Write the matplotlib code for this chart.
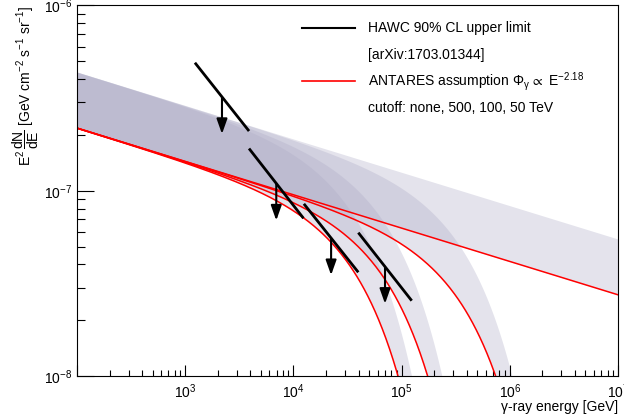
import numpy as np
import matplotlib
matplotlib.use("Agg")
import matplotlib.pyplot as plt
from matplotlib.ticker import LogLocator, NullFormatter

plt.rcParams['font.family'] = ['Liberation Sans', 'DejaVu Sans']
plt.rcParams['mathtext.fontset'] = 'custom'
plt.rcParams['mathtext.rm'] = 'Liberation Sans'
plt.rcParams['mathtext.it'] = 'Liberation Sans'
plt.rcParams['mathtext.default'] = 'regular'

# ANTARES power-law assumption, E^2 dN/dE at 1 TeV, index, cutoffs (GeV)
norm_1tev = 1.44e-7
index = 2.18
band_factor = 2.0
cutoffs = [np.inf, 5e5, 1e5, 5e4]

# HAWC 90% CL upper limits: energy bin edges (GeV) and flux at the edges
hawc_e_lo = [1.23e3, 3.89e3, 1.25e4, 3.98e4]
hawc_e_hi = [3.89e3, 1.24e4, 3.98e4, 1.24e5]
hawc_f_lo = [4.91e-7, 1.69e-7, 8.5e-8, 5.94e-8]
hawc_f_hi = [2.10e-7, 7.1e-8, 3.63e-8, 2.55e-8]

fig = plt.figure(figsize=(6.24, 4.19), dpi=100)
ax = fig.add_axes([0.1234, 0.1026, 0.8670, 0.8843])

energy = np.logspace(2, 7, 600)
band_col = (173/255., 171/255., 198/255.)
for ec in cutoffs:
    f = norm_1tev * (energy / 1e3) ** (2 - index) * np.exp(-energy / ec)
    ax.fill_between(energy, f, band_factor * f, color=band_col, alpha=0.33, lw=0)
for ec in cutoffs:
    f = norm_1tev * (energy / 1e3) ** (2 - index) * np.exp(-energy / ec)
    ax.plot(energy, f, color='red', lw=1.1)

# upper limits with down arrows
for elo, ehi, flo, fhi in zip(hawc_e_lo, hawc_e_hi, hawc_f_lo, hawc_f_hi):
    ax.plot([elo, ehi], [flo, fhi], color='black', lw=2.0, solid_capstyle='butt')
    ec = np.sqrt(elo * ehi)
    fm = np.sqrt(flo * fhi)
    ax.annotate('', xy=(ec, fm * 10 ** -0.2), xytext=(ec, fm),
                arrowprops=dict(arrowstyle='-|>,head_length=0.9,head_width=0.32',
                                color='black', lw=1.5, mutation_scale=10,
                                shrinkA=0, shrinkB=0))

ax.set_xscale('log')
ax.set_yscale('log')
ax.set_xlim(1e2, 1e7)
ax.set_ylim(1e-8, 1e-6)

ax.xaxis.set_major_locator(LogLocator(base=10, numticks=10))
ax.xaxis.set_minor_locator(LogLocator(base=10, subs=np.arange(2, 10), numticks=20))
ax.xaxis.set_minor_formatter(NullFormatter())
ax.yaxis.set_minor_locator(LogLocator(base=10, subs=np.arange(2, 10), numticks=20))
ax.yaxis.set_minor_formatter(NullFormatter())
ax.tick_params(axis='x', which='major', direction='in', length=8, width=0.8, labelsize=10, pad=4.5)
ax.tick_params(axis='x', which='minor', direction='in', length=4, width=0.8)
ax.tick_params(axis='y', which='major', direction='in', length=12, width=0.8, labelsize=10)
ax.tick_params(axis='y', which='minor', direction='in', length=6, width=0.8)
fig.canvas.draw()
for t, v in zip(ax.get_xticklabels(), ax.get_xticks()):
    if v < 5e2:
        t.set_visible(False)

ax.set_xlabel('γ-ray energy [GeV]', loc='right', fontsize=10, labelpad=-0.5)
ax.set_ylabel(r'$E^{2}\,\dfrac{dN}{dE}$ [GeV cm$^{-2}$ s$^{-1}$ sr$^{-1}$]',
              loc='top', fontsize=10, labelpad=2)

# legend
tr = ax.transAxes
ax.plot([0.416, 0.514], [0.940, 0.940], color='black', lw=1.5, transform=tr)
ax.plot([0.416, 0.514], [0.796, 0.796], color='red', lw=1.2, transform=tr)
ax.text(0.538, 0.940, 'HAWC 90% CL upper limit', transform=tr, va='center', fontsize=10)
ax.text(0.538, 0.866, '[arXiv:1703.01344]', transform=tr, va='center', fontsize=10)
ax.text(0.538, 0.796, r'ANTARES assumption $\Phi_{\gamma}\,\propto$ E$^{-2.18}$',
        transform=tr, va='center', fontsize=10)
ax.text(0.538, 0.723, 'cutoff: none, 500, 100, 50 TeV', transform=tr, va='center', fontsize=10)

fig.savefig('out.png', dpi=100)
